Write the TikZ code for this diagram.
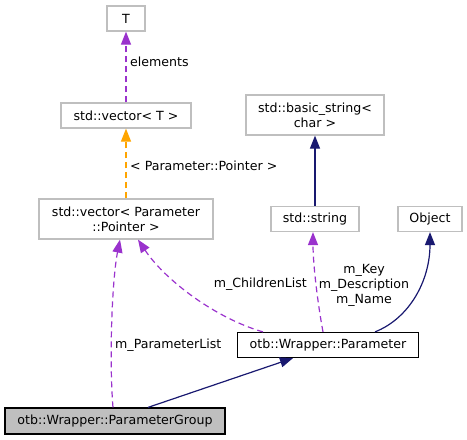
\documentclass[tikz,border=0pt]{standalone}
\usepackage{fontspec}
\setmainfont{DejaVu Sans}
\usetikzlibrary{arrows.meta}
\definecolor{edgegray}{HTML}{BFBFBF}
\definecolor{memberpurple}{HTML}{9A32CD}
\definecolor{tmplorange}{HTML}{FFA500}
\definecolor{inheritblue}{HTML}{191970}
\tikzset{
  cls/.style={draw=edgegray,line width=1.2pt,inner sep=0pt,align=center,
    font=\fontsize{12.6}{15}\selectfont},
  mainbox/.style={cls,draw=black},
  lbl/.style={inner sep=0pt,align=center,font=\fontsize{12.6}{15}\selectfont},
  member/.style={draw=memberpurple,line width=1.2pt,dash pattern=on 6pt off 4pt,
    -{Triangle[length=13pt,width=10pt,fill=memberpurple]}},
  tmpl/.style={draw=tmplorange,line width=1.2pt,dash pattern=on 6pt off 4pt,
    -{Triangle[length=13pt,width=10pt,fill=tmplorange]}},
  inherit/.style={draw=inheritblue,line width=1.2pt,
    -{Triangle[length=13pt,width=10pt,fill=inheritblue]}}
}
\begin{document}
\begin{tikzpicture}[x=1pt,y=-1pt]
\useasboundingbox (0,0) rectangle (467,440);
% classes
\node[cls,minimum width=38pt,minimum height=25pt] (T) at (126,18.5) {T};
\node[cls,minimum width=130pt,minimum height=25pt] (vecT) at (126,115.5) {std::vector< T >};
\node[cls,minimum width=174pt,minimum height=40pt] (vecP) at (126,219) {std::vector< Parameter\\::Pointer >};
\node[cls,minimum width=138pt,minimum height=40pt] (bstr) at (315,115) {std::basic\_string<\\char >};
\node[cls,minimum width=88pt,minimum height=25pt] (str) at (315,219) {std::string};
\node[cls,minimum width=64pt,minimum height=25pt] (object) at (430,219) {Object};
\node[mainbox,minimum width=181pt,minimum height=25pt] (param) at (328,345) {otb::Wrapper::Parameter};
\node[mainbox,fill=edgegray,minimum width=220pt,minimum height=26pt] (group) at (115,421) {otb::Wrapper::ParameterGroup};

% connectors
\draw[member] (vecT) -- (T);
\node[lbl,anchor=west] (lelem) at (130,62) {elements};
\draw[tmpl] (vecP) -- (vecT);
\node[lbl,anchor=west] (ltmpl) at (130,166) {< Parameter::Pointer >};
\draw[inherit] (str) -- (bstr);

\draw[member] ([xshift=-5pt]param.north) .. controls (318,305) and (313,265) .. ([xshift=-2pt]str.south);
\node[lbl] (lstr) at (364,285.5) {m\_Key\\m\_Description\\m\_Name};
\draw[member] ([xshift=-65pt]param.north) .. controls (215,318) and (165,280) .. ([xshift=12pt]vecP.south);
\node[lbl,anchor=east] (lchild) at (307,284) {m\_ChildrenList};
\draw[member] ([xshift=-2pt]group.north) .. controls (109,360) and (112,280) .. ([xshift=-6pt]vecP.south);
\node[lbl,anchor=west] (lplist) at (115,345) {m\_ParameterList};

\draw[inherit] ([xshift=33pt]group.north) -- ([xshift=-35pt]param.south);
\draw[inherit] ([xshift=47pt]param.north) .. controls (410,318) and (430,280) .. (object.south);
\end{tikzpicture}
\end{document}
